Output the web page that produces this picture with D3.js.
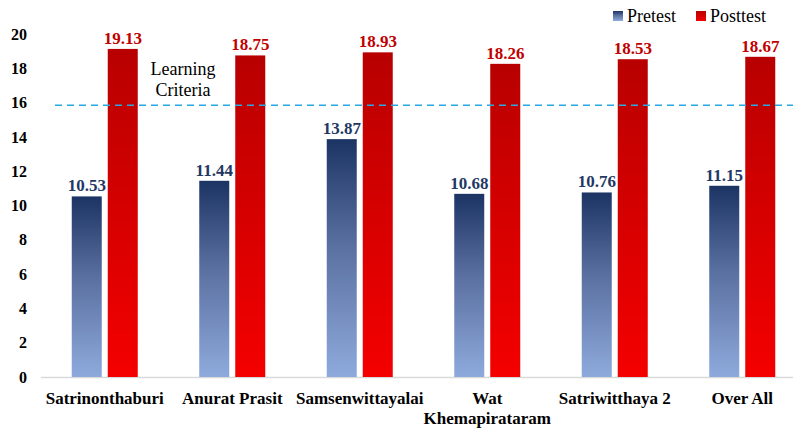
<!DOCTYPE html>
<html>
<head>
<meta charset="utf-8">
<script src="https://cdn.jsdelivr.net/npm/d3@7"></script>
<style>
  body { margin: 0; background: #fff; }
</style>
</head>
<body>
<svg width="793" height="428" font-family="'Liberation Serif', 'Times New Roman', 'DejaVu Serif', serif"></svg>
<script>
var schools = ["Satrinonthaburi", "Anurat Prasit", "Samsenwittayalai", "Wat Khemapirataram", "Satriwitthaya 2", "Over All"];
var pretest = [10.53, 11.44, 13.87, 10.68, 10.76, 11.15];
var posttest = [19.13, 18.75, 18.93, 18.26, 18.53, 18.67];
var yTicks = [0, 2, 4, 6, 8, 10, 12, 14, 16, 18, 20];
var criteria = 15.85;

var svg = d3.select("svg")
    , width = +svg.attr("width")
    , height = +svg.attr("height");

var x = d3.scaleBand().domain(schools).range([41, 806]);
var y = d3.scaleLinear().domain([0, 20]).range([377, 34]);

var defs = svg.append("defs");
var gPre = defs.append("linearGradient").attr("id", "gpre").attr("x1", 0).attr("y1", 0).attr("x2", 0).attr("y2", 1);
gPre.append("stop").attr("offset", "0%").attr("stop-color", "#1c3464");
gPre.append("stop").attr("offset", "45%").attr("stop-color", "#5a70a0");
gPre.append("stop").attr("offset", "100%").attr("stop-color", "#8eaadc");
var gPost = defs.append("linearGradient").attr("id", "gpost").attr("x1", 0).attr("y1", 0).attr("x2", 0).attr("y2", 1);
gPost.append("stop").attr("offset", "0%").attr("stop-color", "#b80000");
gPost.append("stop").attr("offset", "100%").attr("stop-color", "#f40000");

// y axis labels
svg.append("g").selectAll("text").data(yTicks).enter().append("text")
    .attr("x", 27).attr("y", function (d) { return y(d); })
    .attr("dy", "0.35em").attr("text-anchor", "end")
    .attr("font-size", 16).attr("font-weight", "bold").attr("fill", "#000")
    .text(function (d) { return d; });

// baseline
svg.append("line").attr("x1", 41).attr("x2", width).attr("y1", y(0) + 0.5).attr("y2", y(0) + 0.5)
    .attr("stroke", "#d9d9d9").attr("stroke-width", 1.5);

var bw = 30, gap = 6;
var grp = svg.append("g").selectAll("g").data(schools).enter().append("g")
    .attr("transform", function (d) { return "translate(" + (x(d) + x.bandwidth() / 2) + ",0)"; });

grp.append("rect")
    .attr("x", -bw - gap / 2).attr("width", bw)
    .attr("y", function (d, i) { return y(pretest[i]); })
    .attr("height", function (d, i) { return y(0) - y(pretest[i]); })
    .attr("fill", "url(#gpre)");
grp.append("rect")
    .attr("x", gap / 2).attr("width", bw)
    .attr("y", function (d, i) { return y(posttest[i]); })
    .attr("height", function (d, i) { return y(0) - y(posttest[i]); })
    .attr("fill", "url(#gpost)");

grp.append("text")
    .attr("x", -bw / 2 - gap / 2).attr("y", function (d, i) { return y(pretest[i]) - 5; })
    .attr("text-anchor", "middle").attr("font-size", 17).attr("font-weight", "bold").attr("fill", "#1f3864")
    .text(function (d, i) { return pretest[i].toFixed(2); });
grp.append("text")
    .attr("x", bw / 2 + gap / 2).attr("y", function (d, i) { return y(posttest[i]) - 5; })
    .attr("text-anchor", "middle").attr("font-size", 17).attr("font-weight", "bold").attr("fill", "#c00000")
    .text(function (d, i) { return posttest[i].toFixed(2); });

// category labels
grp.append("text")
    .attr("text-anchor", "middle").attr("font-size", 17).attr("font-weight", "bold").attr("fill", "#000")
    .each(function (d) {
        var t = d3.select(this);
        var lines = d === "Wat Khemapirataram" ? ["Wat", "Khemapirataram"] : [d];
        lines.forEach(function (l, k) {
            t.append("tspan").attr("x", 0).attr("y", 404 + k * 20).text(l);
        });
    });

// learning criteria line
svg.append("line").attr("x1", 55).attr("x2", width).attr("y1", y(criteria)).attr("y2", y(criteria))
    .attr("stroke", "#26aae1").attr("stroke-width", 1.5).attr("stroke-dasharray", "7,5");
svg.append("text").attr("text-anchor", "middle").attr("font-size", 18).attr("fill", "#000")
    .selectAll("tspan").data(["Learning", "Criteria"]).enter().append("tspan")
    .attr("x", 183).attr("y", function (d, i) { return 75 + i * 21; })
    .text(function (d) { return d; });

// legend
var legend = [{ name: "Pretest", fill: "url(#gpre)", x: 613 }, { name: "Posttest", fill: "url(#gpost)", x: 696 }];
var lg = svg.append("g").selectAll("g").data(legend).enter().append("g");
lg.append("rect").attr("x", function (d) { return d.x; }).attr("y", 11).attr("width", 10).attr("height", 10)
    .attr("fill", function (d) { return d.fill; });
lg.append("text").attr("x", function (d) { return d.x + 14; }).attr("y", 22)
    .attr("font-size", 18).attr("fill", "#000").text(function (d) { return d.name; });
</script>
</body>
</html>
